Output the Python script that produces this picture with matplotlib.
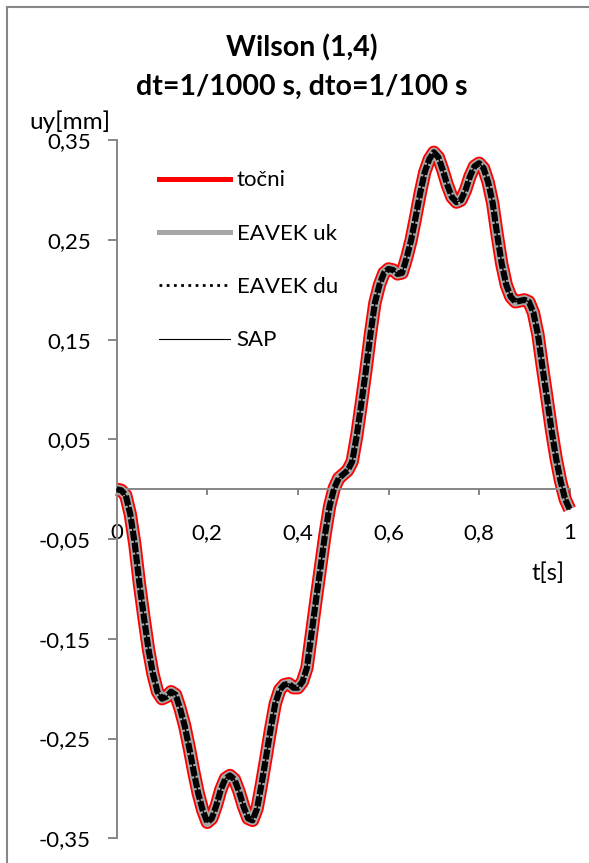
import numpy as np
import matplotlib
matplotlib.use("Agg")
import matplotlib.pyplot as plt
from matplotlib.lines import Line2D

plt.rcParams['font.family'] = ['Lato', 'DejaVu Sans']

# vrijeme [s], korak 0.01
t = np.round(np.arange(0, 101) * 0.01, 2)

# pomak uy [mm] ocitan sa slike (sve cetiri krivulje se prekrivaju)
u_tocni = [
    0.000, -0.001, -0.006, -0.025, -0.055, -0.094, -0.128, -0.160, -0.185, -0.203,
    -0.210, -0.208, -0.203, -0.206, -0.220, -0.237, -0.259, -0.283, -0.305, -0.322,
    -0.334, -0.330, -0.317, -0.301, -0.290, -0.287, -0.291, -0.303, -0.318, -0.330,
    -0.332, -0.320, -0.295, -0.268, -0.240, -0.215, -0.201, -0.196, -0.195, -0.199,
    -0.199, -0.193, -0.179, -0.145, -0.111, -0.078, -0.045, -0.017, 0.001, 0.011,
    0.015, 0.019, 0.028, 0.054, 0.086, 0.119, 0.155, 0.187, 0.205, 0.217,
    0.221, 0.220, 0.216, 0.217, 0.232, 0.250, 0.273, 0.297, 0.318, 0.331,
    0.338, 0.333, 0.320, 0.305, 0.293, 0.288, 0.290, 0.300, 0.314, 0.324,
    0.327, 0.322, 0.308, 0.287, 0.255, 0.226, 0.205, 0.193, 0.188, 0.189,
    0.190, 0.188, 0.177, 0.155, 0.122, 0.091, 0.059, 0.031, 0.008, -0.010,
    -0.020,
]
u_eavek_uk = list(u_tocni)
u_eavek_du = list(u_tocni)
u_sap = list(u_tocni)

labels = ['točni', 'EAVEK uk', 'EAVEK du', 'SAP']
x_ticks = [0, 0.2, 0.4, 0.6, 0.8, 1.0]
x_ticklabels = ['0', '0,2', '0,4', '0,6', '0,8', '1']
y_ticks = [-0.35, -0.25, -0.15, -0.05, 0.05, 0.15, 0.25, 0.35]
y_ticklabels = ['-0,35', '-0,25', '-0,15', '-0,05', '0,05', '0,15', '0,25', '0,35']

W, H = 589, 863
fig = plt.figure(figsize=(W / 100, H / 100), dpi=100)
ax = fig.add_axes([116.7 / W, (H - 838.3) / H, 453 / W, 698 / H])

grey_ax = '#868686'

ax.plot(t, u_tocni, color='#FF0000', lw=9.6, solid_capstyle='butt', zorder=2, clip_on=False)
ax.plot(t, u_eavek_uk, color='#A6A6A6', lw=7.0, solid_capstyle='butt', zorder=3, clip_on=False)
ax.plot(t, u_eavek_du, color='black', lw=4.4, linestyle=(0, (1.6, 0.35)), zorder=4, clip_on=False)
ax.plot(t, u_sap, color='black', lw=1.0, zorder=5, clip_on=False)

ax.set_xlim(0, 1)
ax.set_ylim(-0.35, 0.35)
ax.set_xticks(x_ticks)
ax.set_xticklabels(x_ticklabels)
ax.set_yticks(y_ticks)
ax.set_yticklabels(y_ticklabels)

for s in ['top', 'right']:
    ax.spines[s].set_visible(False)
ax.spines['bottom'].set_position(('data', 0))
ax.spines['bottom'].set_color(grey_ax)
ax.spines['left'].set_color(grey_ax)
ax.spines['bottom'].set_linewidth(1.4)
ax.spines['left'].set_linewidth(1.4)
ax.tick_params(axis='x', direction='out', length=4.5, width=1.4, color=grey_ax,
               labelsize=16, pad=19.5)
ax.tick_params(axis='y', direction='out', length=6.5, width=1.4, color=grey_ax,
               labelsize=16, pad=12)
ax.patch.set_alpha(0)

# naslov i oznake osi
fig.text(302 / W, 1 - 48 / H, 'Wilson (1,4)', ha='center', va='center',
         fontsize=20.5, fontweight='bold')
fig.text(302 / W, 1 - 87 / H, 'dt=1/1000 s, dto=1/100 s', ha='center', va='center',
         fontsize=20.5, fontweight='bold')
fig.text(70 / W, 1 - 122 / H, 'uy[mm]', ha='center', va='center', fontsize=17.5)
fig.text(565 / W, 1 - 573 / H, 't[s]', ha='right', va='center', fontsize=17)

# legenda
handles = [
    Line2D([], [], color='#FF0000', lw=3.6),
    Line2D([], [], color='#A6A6A6', lw=3.6),
    Line2D([], [], color='black', lw=2.0, linestyle=(0, (1, 1.6))),
    Line2D([], [], color='black', lw=0.8),
]
ax.legend(handles, labels, loc='upper left', bbox_to_anchor=(159 / W, 1 - 170.5 / H),
          bbox_transform=fig.transFigure, frameon=False, fontsize=16,
          handlelength=3.2, handletextpad=0.3, labelspacing=1.5,
          borderpad=0, borderaxespad=0)

# okvir grafikona
fig.add_artist(Line2D([7 / W, 7 / W], [0, 1 - 7 / H], color=grey_ax, lw=1.5))
fig.add_artist(Line2D([7 / W, 1], [1 - 7 / H, 1 - 7 / H], color=grey_ax, lw=1.5))

fig.savefig('out.png', dpi=100)
